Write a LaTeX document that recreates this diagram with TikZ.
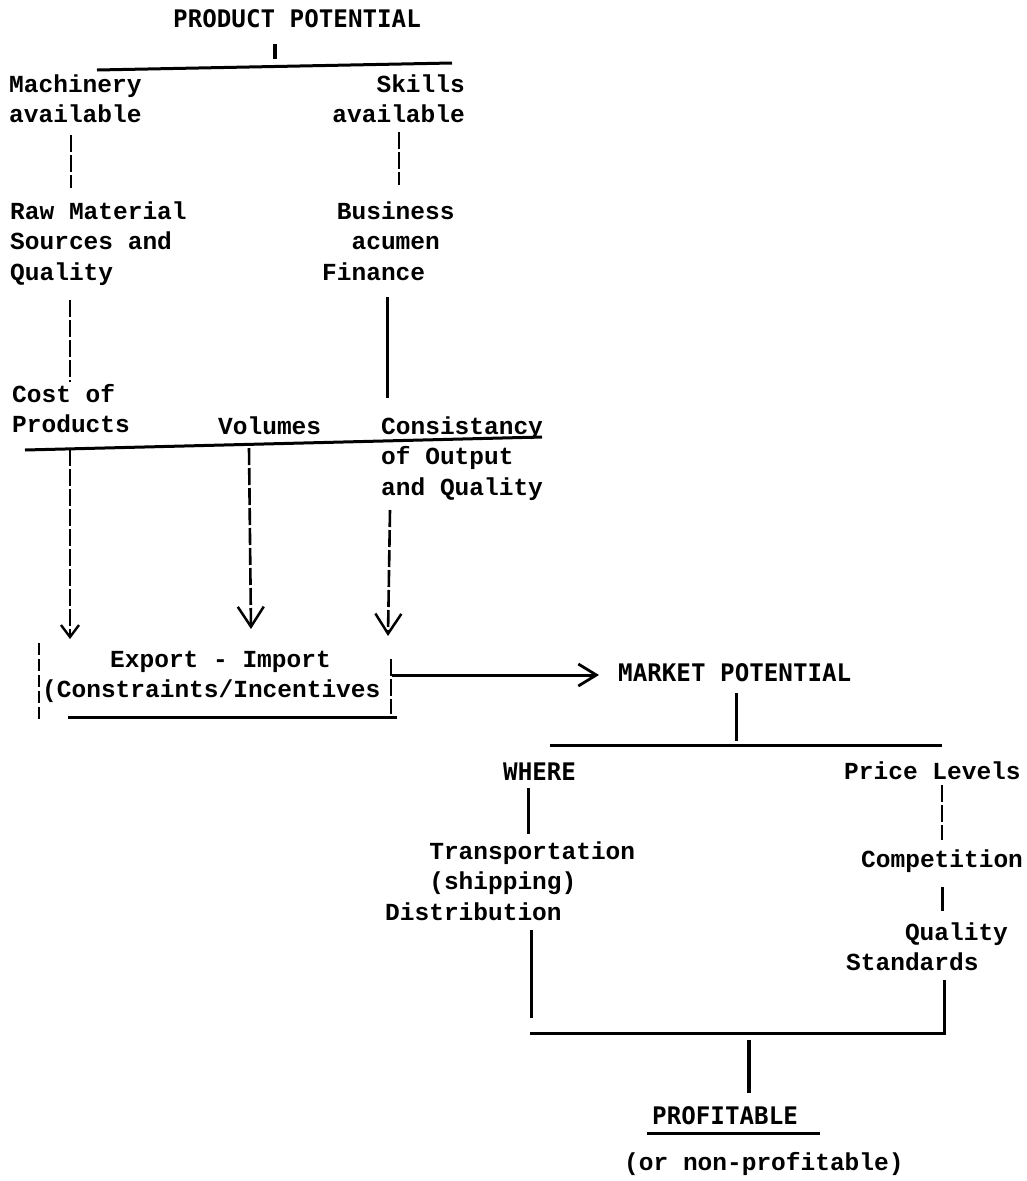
\documentclass[tikz,border=0pt]{standalone}
\usepackage{fontspec}
\setmonofont{Liberation Mono}
\newfontfamily\hdrfam{DejaVu Sans Mono}
\usetikzlibrary{arrows.meta}
\newcommand{\bodyf}{\fontsize{24.5}{30.5}\selectfont\ttfamily\bfseries}
\newcommand{\hdrf}{\fontsize{24.2}{30.5}\selectfont\hdrfam\bfseries}
\newcommand{\mlines}[1]{\begin{tabular}[t]{@{}l@{}}#1\end{tabular}}
\newcommand{\mlinesr}[1]{\begin{tabular}[t]{@{}r@{}}#1\end{tabular}}
\tikzset{
  txt/.style={font=\bodyf, inner sep=0pt, anchor=base west},
  hdr/.style={font=\hdrf, inner sep=0pt, anchor=base west},
  ln/.style={line width=3pt},
  brk/.style={line width=2.6pt, dash pattern=on 17pt off 3pt},
  barb/.style={-{Straight Barb[length=#1, width=26pt, line width=2.5pt]}},
  barb/.default=18pt,
}
\begin{document}
\begin{tikzpicture}[x=1pt,y=-1pt]
\useasboundingbox (0,0) rectangle (1026,1181);
\fill[white] (0,0) rectangle (1026,1181);

% ---- text nodes
\node[hdr] (pp) at (173,27) {PRODUCT POTENTIAL};
\node[txt] (mach) at (9,92) {\mlines{Machinery\\available}};
\node[txt, anchor=base east] (skills) at (465,92) {\mlinesr{Skills\\available}};
\node[txt] (raw) at (10,219) {\mlines{Raw Material\\Sources and\\Quality}};
\node[txt] (bus) at (322,219) {\mlines{\phantom{x}Business\\\phantom{xx}acumen\\Finance}};
\node[txt] (cost) at (12,402) {\mlines{Cost of\\Products}};
\node[txt] (vol) at (218,434) {Volumes};
\node[txt] (cons) at (381,434) {\mlines{Consistancy\\of Output\\and Quality}};
\node[txt] (box) at (42,667) {\mlines{\hspace*{68pt}Export - Import\\(Constraints/Incentives}};
\node[hdr] (mkt) at (618,681) {MARKET POTENTIAL};
\node[hdr] (where) at (503,780) {WHERE};
\node[txt] (trans) at (385,859) {\mlines{\phantom{xxx}Transportation\\\phantom{xxx}(shipping)\\Distribution}};
\node[txt] (price) at (844,779) {Price Levels};
\node[txt] (comp) at (861,867) {Competition};
\node[txt] (qs) at (846,940) {\mlines{\phantom{xxxx}Quality\\Standards}};
\node[hdr] (prof) at (652,1124) {PROFITABLE};
\node[txt] (nonp) at (624,1170) {(or non-profitable)};

% ---- connector coordinates
\coordinate (ppT) at (275,44);   \coordinate (ppB) at (275,59);
\coordinate (ppL) at (97,70);    \coordinate (ppR) at (452,63);
\coordinate (m1) at (71,135);    \coordinate (m2) at (71,188);
\coordinate (s1) at (399,132);   \coordinate (s2) at (399,185);
\coordinate (q1) at (70,300);    \coordinate (q2) at (70,382);
\coordinate (f1) at (387,297);   \coordinate (f2) at (387,398);
\coordinate (barL) at (25,450);  \coordinate (barR) at (542,437);
\coordinate (a1s) at (70,449);   \coordinate (a1e) at (70,639);
\coordinate (a2s) at (249,448);  \coordinate (a2e) at (251,629);
\coordinate (a3s) at (390,510);  \coordinate (a3e) at (388,636);
\coordinate (bxL1) at (39,643);  \coordinate (bxL2) at (39,721);
\coordinate (bxR1) at (391,659); \coordinate (bxR2) at (391,714);
\coordinate (bxB1) at (68,717);  \coordinate (bxB2) at (397,717);
\coordinate (mk1) at (392,675);  \coordinate (mk2) at (599,675);
\coordinate (mt1) at (736,693);  \coordinate (mt2) at (736,741);
\coordinate (mbL) at (550,745);  \coordinate (mbR) at (942,745);
\coordinate (w1) at (528,788);   \coordinate (w2) at (528,834);
\coordinate (p1) at (942,785);   \coordinate (p2) at (942,840);
\coordinate (c1) at (942,887);   \coordinate (c2) at (942,911);
\coordinate (d1) at (531,930);   \coordinate (d2) at (531,1018);
\coordinate (bbL) at (530,1033); \coordinate (bbR) at (944,1033);
\coordinate (st1) at (944,980);
\coordinate (pt1) at (749,1040); \coordinate (pt2) at (749,1093);
\coordinate (ul1) at (647,1133); \coordinate (ul2) at (820,1133);

% ---- upper tree
\draw[ln, line width=3.5pt] (ppT) -- (ppB);
\draw[ln] (ppL) -- (ppR);
\draw[brk] (m1) -- (m2);
\draw[brk] (s1) -- (s2);
\draw[brk] (q1) -- (q2);
\draw[ln] (f1) -- (f2);
\draw[ln] (barL) -- (barR);

% ---- arrows into the box
\draw[brk, -{Straight Barb[length=12pt, width=18pt, line width=2.4pt]}] (a1s) -- (a1e);
\draw[brk, barb=20pt] (a2s) -- (a2e);
\draw[brk, barb=20pt] (a3s) -- (a3e);

% ---- box
\draw[brk, dash pattern=on 12pt off 4pt] (bxL1) -- (bxL2);
\draw[brk] (bxR1) -- (bxR2);
\draw[ln] (bxB1) -- (bxB2);

% ---- to market potential
\draw[ln, -{Straight Barb[length=18pt, width=22pt, line width=2.8pt]}] (mk1) -- (mk2);
\draw[ln] (mt1) -- (mt2);
\draw[ln] (mbL) -- (mbR);
\draw[ln] (w1) -- (w2);
\draw[brk] (p1) -- (p2);
\draw[ln] (c1) -- (c2);
\draw[ln] (d1) -- (d2);
\draw[ln] (bbL) -- (bbR) -- (st1);
\draw[ln, line width=3.5pt] (pt1) -- (pt2);
\draw[ln] (ul1) -- (ul2);
\end{tikzpicture}
\end{document}
